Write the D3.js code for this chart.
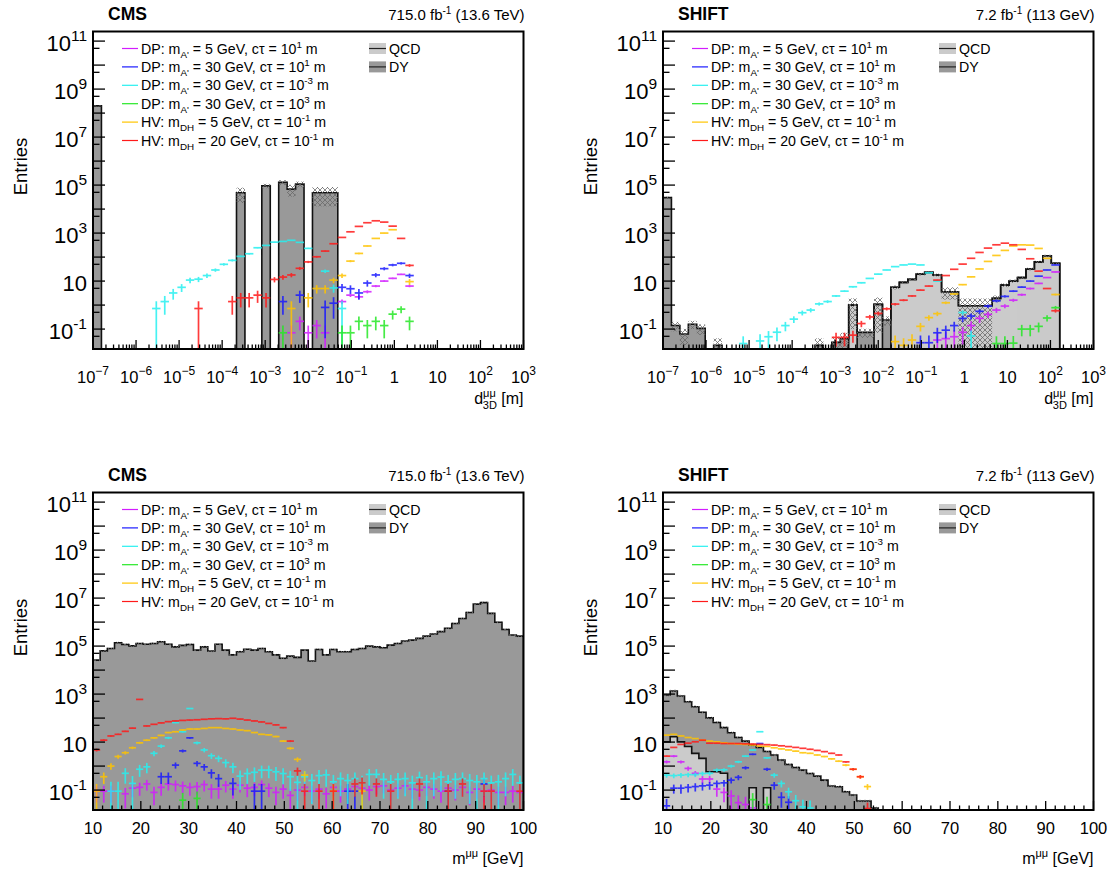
<!DOCTYPE html>
<html><head><meta charset="utf-8">
<script src="https://cdn.jsdelivr.net/npm/d3@7/dist/d3.min.js"></script>
<style>
html,body{margin:0;padding:0;background:#fff;}
svg{display:block;font-family:"Liberation Sans",Arial,Helvetica,sans-serif;}
</style></head><body>
<svg id="chart" width="1112" height="872"></svg>
<script>
// ================= DATA =================
const dLogRange = [-7, 3];      // d3D axis range, log10(m)
const dBinCount = 51;
const mRange = [10, 100];       // m(mumu) axis range, GeV
const mBinWidth = 1.5;
const yLogRange = [-1.83, 11.40];

const yTickExps = [-1, 1, 3, 5, 7, 9, 11];
const dTickExps = [-7, -6, -5, -4, -3, -2, -1, 0, 1, 2, 3];
const mTicks = [10, 20, 30, 40, 50, 60, 70, 80, 90, 100];

const seriesColors = ["#d21cff", "#1a1aff", "#26f0f0", "#26e826", "#ffc400", "#ff1a1a"];
const legendMass = ["5", "30", "30", "30", "5", "20"];
const legendCtau = ["1", "1", "-3", "3", "-1", "-1"];
const legendModel = ["DP", "DP", "DP", "DP", "HV", "HV"];

// ---- top left: CMS, d3D ----
const tlQCD = new Array(51).fill(0);
const tlDY = [2e8,0,0,0,0,0,0,0,0,0, 0,0,0,0,0,0,0,4.8e4,0,0,
  9.3e4,0,1.3e5,6.8e4,1.1e5,0,4.8e4,4.8e4,4.8e4,0, 0,0,0,0,0,0,0,0,0,0, 0,0,0,0,0,0,0,0,0,0, 0];
const tlErr = [1e7,0,0,0,0,0,0,0,0,0, 0,0,0,0,0,0,0,3e4,0,0,
  2e4,0,3e4,3.5e4,3e4,0,3.5e4,3.5e4,3.5e4,0, 0,0,0,0,0,0,0,0,0,0, 0,0,0,0,0,0,0,0,0,0, 0];
const tlMagenta = [0,0,0,0,0,0,0,0,0,0, 0,0,0,0,0,0,0,0,0,0,
  0,0,0,0.07,0.21,0.07,0.14,0.07,0,1.4, 2.6,2.2,3.6,6.2,10,13,19,6.2,0,0, 0,0,0,0,0,0,0,0,0,0, 0];
const tlBlue = [0,0,0,0,0,0,0,0,0,0, 0,0,0,0,0,0,0,0,0,0,
  0,0,1.4,0,2.6,0,0,0.8,1.2,5.5, 4.8,3.2,8.3,18,33,47,55,17,0,0, 0,0,0,0,0,0,0,0,0,0, 0];
const tlCyan = [0,0,0,0,0,0,0,0.72,1.4,3.2, 5.5,11,12,17,29,50,73,107,138,245,
  307,420,450,500,410,230,0,26,5.2,0.72, 0,0,0,0,0,0,0,0,0,0, 0,0,0,0,0,0,0,0,0,0, 0];
const tlGreen = [0,0,0,0,0,0,0,0,0,0, 0,0,0,0,0,0,0,0,0,0,
  0,0,0.07,0,0,0,0,0,0,0.07, 0.07,0.21,0.14,0.21,0.14,0.42,0.68,0.21,0,0, 0,0,0,0,0,0,0,0,0,0, 0];
const tlOrange = [0,0,0,0,0,0,0,0,0,0, 0,0,0,0,0,0,0,0,0,0,
  0,0,0,0.72,0,2.0,4.9,4.9,11,17, 68,142,290,600,1000,1380,0,9.5,0,0, 0,0,0,0,0,0,0,0,0,0, 0];
const tlRed = [0,0,0,0,0,0,0,0,0,0, 0,0,0.72,0,0,0,1.4,2.0,2.0,2.6,
  2.0,11.7,14.7,18,34,63,103,178,360,660, 1130,1900,2700,3250,2870,1950,600,45,0,0, 0,0,0,0,0,0,0,0,0,0, 0];
const tlWeights = [0.07, 0.72, 0.72, 0.07, 0.72, 0.72];

// ---- top right: SHIFT, d3D ----
const trQCD = [0,0,0,0,0,0,0,0,0,0, 0,0,0,0,0,0,0,0,0,0,
  0,0,1.0,0,0,1.07,0,5.5,8.8,11.8, 19.5,23,18,3.6,3.6,0.94,0.94,0.94,0.94,1.9,
  6.8,10,14,32,63,113,55,0,0,0, 0];
const trDY = [3e4,0.14,0.062,0.16,0.107,0,0.021,0,0,0, 0,0,0,0,0,0,0,0,0.021,0,
  0.028,0.04,0,0.073,0.073,0,0.24,0,0,0, 0,0,0,0,0,0,0,0,0,0, 0,0,0,0,0,0,0,0,0,0, 0];
const trErr = [3e3,0.06,0.04,0.06,0.05,0,0.02,0,0,0, 0,0,0,0,0,0,0,0,0.02,0,
  0.02,0.03,0.9,0.03,0.03,1.0,0.1,1.0,1.3,1.5, 2.5,3,2.5,1.9,1.9,0.94,0.94,0.94,0.94,0.6,
  1.2,1.5,2,4,7,12,7,0,0,0, 0];
const trMagenta = [0,0,0,0,0,0,0,0,0,0, 0,0,0,0,0,0,0,0,0,0, 0,0,0,0,0,0,0,0,0,0,
  0,0,0.035,0.04,0.048,0.073,0.14,0.28,0.41,0.62, 0.91,1.6,2.7,4.9,8,14,24,0,0,0, 0];
const trBlue = [0,0,0,0,0,0,0,0,0,0, 0,0,0,0,0,0,0,0,0,0, 0,0,0,0,0,0,0,0,0,0,
  0.027,0.027,0.07,0.09,0.14,0.28,0.35,0.55,0.91,1.5, 2.3,3.8,5.6,10,16,29,47,0,0,0, 0];
const trCyan = [0,0,0,0,0,0,0,0,0,0.025, 0,0.032,0.048,0.074,0.14,0.26,0.48,0.62,1.12,1.4,
  2.4,3.8,5.8,8.5,12.9,19.5,29,40,47,51, 47,22,10,0,0,0.49,0.052,0,0,0, 0,0,0,0,0,0,0,0,0,0, 0];
const trGreen = [0,0,0,0,0,0,0,0,0,0, 0,0,0,0,0,0,0,0,0,0, 0,0,0,0,0,0,0,0,0,0,
  0,0,0,0,0,0,0,0,0,0.025, 0.025,0.026,0.1,0.1,0.13,0.29,0.78,0,0,0, 0];
const trOrange = [0,0,0,0,0,0,0,0,0,0, 0,0,0,0,0,0,0,0,0,0,
  0,0,0,0,0,0,0,0.03,0.021,0.035, 0.13,0.3,0.44,1.25,2.9,7.1,15,32,66,117,
  190,290,324,316,229,89,2.75,0,0,0, 0];
const trRed = [0,0,0,0,0,0,0,0,0,0, 0,0,0,0,0,0,0,0,0,0,
  0.045,0.045,0.056,0.17,0.32,0.45,0.7,1.1,1.6,2.4, 4.2,6.2,11,17,31,51,89,156,237,325,
  380,325,209,85,26,4.9,0.58,0,0,0, 0];
const trWeights = [0.035, 0.027, 0.025, 0.025, 0.02, 0.015];

// ---- bottom left: CMS, m(mumu) ----
const blQCD = new Array(60).fill(0);
const blDY = [2.6e4,6.3e4,7.9e4,1.38e5,1.17e5,1.02e5,1.29e5,1.2e5,1.29e5,1.51e5,
  1.2e5,9.3e4,1.07e5,1.17e5,6.8e4,9.3e4,6.2e4,1.2e5,6.8e4,4.3e4,
  5.8e4,7.4e4,6.8e4,7.9e4,5.8e4,4.3e4,3.1e4,3.8e4,3.4e4,6.8e4,
  2.4e4,7.2e4,4.3e4,7.2e4,5.8e4,5.8e4,7.2e4,7.9e4,1.0e5,9.3e4,
  8.5e4,1.1e5,1.29e5,1.62e5,1.78e5,2.1e5,2.6e5,3.2e5,4.0e5,5.5e5,
  8.7e5,1.41e6,2.5e6,5.6e6,6.5e6,2.3e6,9.8e5,4.9e5,2.9e5,2.6e5];
const blRelErr = 0.1;
const blMagenta = [0.09,0.09,0.09,0,0.07,0.12,0.13,0.18,0.08,0.13,
  0.18,0.17,0.15,0.13,0.14,0.17,0.11,0.11,0.16,0.11,
  0.16,0.12,0.13,0.17,0.12,0.08,0.11,0.06,0.1,0.13,
  0.09,0.11,0.07,0.13,0.09,0.11,0.14,0.12,0.1,0.14,
  0.15,0.1,0.12,0.15,0.11,0.1,0.13,0.11,0.09,0.12,
  0.1,0.13,0.08,0.11,0.09,0.1,0.08,0.08,0.09,0.08];
const blBlue = [0,0,0,0,0,0,0,0,0,0.36, 0.36,1.1,4.3,15,1.3,0.93,0.52,0.3,0,0.19,
  0,0,0.09,0.09,0,0,0,0,0,0, 0,0,0,0,0,0.09,0.09,0,0,0,
  0,0,0,0,0,0,0,0,0,0.09, 0,0,0,0,0.18,0,0,0,0,0];
const blCyan = [0,0,0.09,0.09,0.5,0.19,0.74,0.93,3.4,6.8,
  15,65,27,250,9.3,4.7,2.7,2.1,1.4,0.93,
  0.38,0.49,0.55,0.68,0.68,0.58,0.49,0.36,0.21,0.36,
  0.25,0.4,0.43,0.22,0.3,0.25,0.3,0.2,0.45,0.45,
  0.28,0.22,0.28,0.3,0.2,0.33,0.22,0.3,0.35,0.22,
  0.28,0.3,0.25,0.22,0.3,0.2,0.22,0.3,0.45,0.2];
const blGreen = [0,0,0,0,0,0,0,0,0,0, 0,0,0.038,0,0.045,0,0,0,0,0,
  0,0,0,0,0,0,0,0,0,0, 0,0,0,0,0,0,0,0,0,0, 0,0,0,0,0,0,0,0,0,0, 0,0,0,0,0,0,0,0,0,0];
const blOrange = [0.09,0.36,1.0,2.5,3.6,5.8,9.3,12,15,19,
  25,27,32,35,35,37,40,40,37,35, 32,30,25,21,20,17,11,5.5,1.9,0.42,
  0,0,0,0.09,0,0,0,0.09,0,0, 0,0,0,0,0,0,0,0,0,0, 0,0,0,0,0,0,0,0,0,0];
const blRed = [4.7,12,18,21,28,38,600,47,55,63, 71,76,80,83,85,89,93,95,93,98,
  91,83,76,69,60,52,40,11,0.63,0.09, 0,0.09,0,0.09,0,0,0.18,0.2,0,0.18,
  0,0.09,0,0,0,0.18,0,0,0,0.09, 0,0.18,0,0,0.09,0.09,0,0,0,0.09];
const blWeights = [0.04, 0.09, 0.2, 0.04, 0.09, 0.09];

// ---- bottom right: SHIFT, m(mumu) ----
const brQCD = [10.2,16.6,10.2,6.5,3.4,2.1,0.58,0.58,0.5,0, 0,0,0.125,0,0.125,0,0,0,0,0,
  0,0,0,0,0,0,0,0,0,0, 0,0,0,0,0,0,0,0,0,0, 0,0,0,0,0,0,0,0,0,0, 0,0,0,0,0,0,0,0,0,0];
const brDY = [902,1333,822,472,292,172,101,65,39.5,24.5, 15.5,11,7.5,6.0,3.9,2.9,1.78,1.17,0.87,0.68,
  0.49,0.38,0.26,0.148,0.138,0.085,0.062,0.035,0.035,0.018, 0,0,0,0,0,0,0,0,0,0,
  0,0,0,0,0,0,0,0,0,0, 0,0,0,0,0,0,0,0,0,0];
const brRelErr = 0.12;
const brMagenta = [1.5,2.6,1.5,0.8,0.5,0.29,0.29,0.11,0.08,0.057, 0.03,0.025,0.018,0,0,0,0,0,0,0,
  0,0,0,0,0,0,0,0,0,0, 0,0,0,0,0,0,0,0,0,0, 0,0,0,0,0,0,0,0,0,0, 0,0,0,0,0,0,0,0,0,0];
const brBlue = [0.022,0.12,0.12,0.13,0.14,0.15,0.16,0.19,0.2,0.26, 0.34,0.85,3.1,8.7,0.74,0.16,0.05,0.031,0,0,
  0,0,0,0,0,0,0,0,0,0, 0,0,0,0,0,0,0,0,0,0, 0,0,0,0,0,0,0,0,0,0, 0,0,0,0,0,0,0,0,0,0];
const brCyan = [0.42,0.4,0.42,0.44,0.44,0.49,0.5,0.68,0.7,1.0, 1.5,2.6,4.7,27,2.2,0.42,0.19,0.085,0.036,0.02,
  0.018,0,0,0,0,0,0,0,0,0, 0,0,0,0,0,0,0,0,0,0, 0,0,0,0,0,0,0,0,0,0, 0,0,0,0,0,0,0,0,0,0];
const brGreen = [0,0,0,0,0,0,0,0,0,0, 0,0,0.04,0,0.025,0,0,0,0,0,
  0,0,0,0,0,0,0,0,0,0, 0,0,0,0,0,0,0,0,0,0, 0,0,0,0,0,0,0,0,0,0, 0,0,0,0,0,0,0,0,0,0];
const brOrange = [19.5,21,18,15.5,14,12,11,10.2,9.3,8.7, 8.3,8.0,7.6,6.8,6.6,5.8,5.2,4.7,4.2,3.6,
  3.4,2.9,2.5,2.0,1.6,1.1,0.74,0.36,0.14,0, 0,0,0,0,0,0,0,0,0,0,
  0,0,0,0,0,0,0,0,0,0, 0,0,0,0,0,0,0,0,0,0];
const brRed = [2.6,6,8,9,10.3,12,9,9,8.7,8.7, 8.7,8.5,8.3,8,7.8,7.5,7,6.5,6,5.5,
  5,4.5,4,3.4,2.9,1.5,0.74,0.36,0.017,0, 0,0,0,0,0,0,0,0,0,0,
  0,0,0,0,0,0,0,0,0,0, 0,0,0,0,0,0,0,0,0,0];
const brWeights = [0.03, 0.02, 0.02, 0.03, 0.01, 0.01];

// ================= DRAWING =================
const svg = d3.select("#chart");
svg.append("rect").attr("width", 1112).attr("height", 872).attr("fill", "#fff");
const defs = svg.append("defs");
const pat = defs.append("pattern").attr("id", "hatch").attr("patternUnits", "userSpaceOnUse")
  .attr("width", 5).attr("height", 5);
pat.append("path").attr("d", "M0,0L5,5M5,0L0,5").attr("stroke", "#6a6a6a").attr("stroke-width", 0.8);

const dEdges = d3.range(dBinCount + 1).map(i => Math.pow(10, dLogRange[0] + i * (dLogRange[1] - dLogRange[0]) / dBinCount));
const mEdges = d3.range(Math.round((mRange[1] - mRange[0]) / mBinWidth) + 1).map(i => mRange[0] + i * mBinWidth);

const panels = [
  {key: "tl", left: 93, right: 523.5, top: 31.5, bottom: 349, kind: "d", exp: "CMS", lumi: ["715.0 fb", "-1", " (13.6 TeV)"],
   qcd: tlQCD, dy: tlDY, err: tlErr, sig: [tlMagenta, tlBlue, tlCyan, tlGreen, tlOrange, tlRed], w: tlWeights},
  {key: "tr", left: 663, right: 1093.5, top: 31.5, bottom: 349, kind: "d", exp: "SHIFT", lumi: ["7.2 fb", "-1", " (113 GeV)"],
   qcd: trQCD, dy: trDY, err: trErr, sig: [trMagenta, trBlue, trCyan, trGreen, trOrange, trRed], w: trWeights},
  {key: "bl", left: 93, right: 523.5, top: 492.5, bottom: 810, kind: "m", exp: "CMS", lumi: ["715.0 fb", "-1", " (13.6 TeV)"],
   qcd: blQCD, dy: blDY, relErr: blRelErr, sig: [blMagenta, blBlue, blCyan, blGreen, blOrange, blRed], w: blWeights},
  {key: "br", left: 663, right: 1093.5, top: 492.5, bottom: 810, kind: "m", exp: "SHIFT", lumi: ["7.2 fb", "-1", " (113 GeV)"],
   qcd: brQCD, dy: brDY, relErr: brRelErr, sig: [brMagenta, brBlue, brCyan, brGreen, brOrange, brRed], w: brWeights}
];

panels.forEach(drawPanel);

function drawPanel(p) {
  const g = svg.append("g");
  const x = p.kind === "d"
    ? d3.scaleLog().domain([Math.pow(10, dLogRange[0]), Math.pow(10, dLogRange[1])]).range([p.left, p.right])
    : d3.scaleLinear().domain(mRange).range([p.left, p.right]);
  const y = d3.scaleLog().domain([Math.pow(10, yLogRange[0]), Math.pow(10, yLogRange[1])]).range([p.bottom, p.top]);
  const edges = p.kind === "d" ? dEdges : mEdges;
  const n = edges.length - 1;
  const below = p.bottom + 3;
  const yv = v => (v > 0 ? Math.min(y(v), below) : below);

  const clipId = "clip-" + p.key;
  defs.append("clipPath").attr("id", clipId).append("rect")
    .attr("x", p.left).attr("y", p.top).attr("width", p.right - p.left).attr("height", p.bottom - p.top);
  const dg = g.append("g").attr("clip-path", `url(#${clipId})`);

  const total = p.qcd.map((q, i) => q + p.dy[i]);
  const idx = d3.range(n);

  dg.append("g").selectAll("rect").data(idx.filter(i => p.qcd[i] > 0)).join("rect")
    .attr("x", i => x(edges[i])).attr("width", i => x(edges[i + 1]) - x(edges[i]))
    .attr("y", i => yv(p.qcd[i])).attr("height", i => below - yv(p.qcd[i]))
    .attr("fill", "#cbcbcb").attr("shape-rendering", "crispEdges");
  dg.append("g").selectAll("rect").data(idx.filter(i => p.dy[i] > 0)).join("rect")
    .attr("x", i => x(edges[i])).attr("width", i => x(edges[i + 1]) - x(edges[i]))
    .attr("y", i => yv(total[i])).attr("height", i => yv(p.qcd[i]) - yv(total[i]))
    .attr("fill", "#999999").attr("shape-rendering", "crispEdges");

  function stepPath(vals) {
    let d = `M${x(edges[0])},${below}`;
    for (let i = 0; i < n; i++) {
      const yy = yv(vals[i]);
      d += `L${x(edges[i])},${yy}L${x(edges[i + 1])},${yy}`;
    }
    d += `L${x(edges[n])},${below}`;
    return d;
  }
  if (p.qcd.some(v => v > 0))
    dg.append("path").attr("d", stepPath(p.qcd)).attr("fill", "none").attr("stroke", "#111").attr("stroke-width", 1.6);
  dg.append("path").attr("d", stepPath(total)).attr("fill", "none").attr("stroke", "#111").attr("stroke-width", 1.6);

  const errOf = i => p.err ? p.err[i] : total[i] * p.relErr;
  dg.append("g").selectAll("rect").data(idx.filter(i => total[i] > 0 && errOf(i) > 0)).join("rect")
    .attr("x", i => x(edges[i])).attr("width", i => x(edges[i + 1]) - x(edges[i]))
    .attr("y", i => y(total[i] + errOf(i)))
    .attr("height", i => { const lo = total[i] - errOf(i); return (lo > 0 ? yv(lo) : below) - y(total[i] + errOf(i)); })
    .attr("fill", "url(#hatch)");

  p.sig.forEach((arr, s) => {
    const sg = dg.append("g").attr("stroke", seriesColors[s]).attr("stroke-width", 1.7).attr("opacity", 0.85);
    const pts = idx.filter(i => arr[i] > 0);
    sg.selectAll("line.h").data(pts).join("line").attr("class", "h")
      .attr("x1", i => x(edges[i])).attr("x2", i => x(edges[i + 1]))
      .attr("y1", i => y(arr[i])).attr("y2", i => y(arr[i]));
    sg.selectAll("line.v").data(pts).join("line").attr("class", "v")
      .attr("x1", i => (x(edges[i]) + x(edges[i + 1])) / 2).attr("x2", i => (x(edges[i]) + x(edges[i + 1])) / 2)
      .attr("y1", i => { const e = Math.sqrt(arr[i] * p.w[s]); const lo = arr[i] - e; return lo > 0 ? yv(lo) : below; })
      .attr("y2", i => y(arr[i] + Math.sqrt(arr[i] * p.w[s])));
  });

  const ax = g.append("g").attr("stroke", "#000").attr("stroke-width", 1.3);
  for (let e = Math.ceil(yLogRange[0]); e <= Math.floor(yLogRange[1]); e++) {
    const yy = y(Math.pow(10, e));
    ax.append("line").attr("x1", p.left).attr("x2", p.left + 12).attr("y1", yy).attr("y2", yy);
  }
  for (let e = Math.floor(yLogRange[0]); e <= Math.floor(yLogRange[1]); e++) {
    const v = 5 * Math.pow(10, e);
    if (Math.log10(v) < yLogRange[0] || Math.log10(v) > yLogRange[1]) continue;
    const yy = y(v);
    ax.append("line").attr("x1", p.left).attr("x2", p.left + 6.5).attr("y1", yy).attr("y2", yy);
  }
  if (p.kind === "d") {
    for (let e = dLogRange[0]; e <= dLogRange[1]; e++) {
      const xx = x(Math.pow(10, e));
      ax.append("line").attr("x1", xx).attr("x2", xx).attr("y1", p.bottom).attr("y2", p.bottom - 9);
      if (e < dLogRange[1]) for (let m = 2; m <= 9; m++) {
        const xm = x(m * Math.pow(10, e));
        ax.append("line").attr("x1", xm).attr("x2", xm).attr("y1", p.bottom).attr("y2", p.bottom - 4.5);
      }
    }
  } else {
    for (let v = mRange[0]; v <= mRange[1]; v += 2) {
      const xx = x(v);
      const major = v % 10 === 0;
      ax.append("line").attr("x1", xx).attr("x2", xx).attr("y1", p.bottom).attr("y2", p.bottom - (major ? 9 : 4.5));
    }
  }

  g.append("rect").attr("x", p.left).attr("y", p.top).attr("width", p.right - p.left).attr("height", p.bottom - p.top)
    .attr("fill", "none").attr("stroke", "#000").attr("stroke-width", 2);

  yTickExps.forEach(e => {
    const t = g.append("text").attr("x", p.left - 6).attr("y", y(Math.pow(10, e)) + 10)
      .attr("text-anchor", "end").attr("font-size", 22).attr("fill", "#000");
    t.append("tspan").text("10");
    if (e !== 1) t.append("tspan").attr("dy", -10).attr("font-size", 15.5).text(e < 0 ? "-" + (-e) : String(e));
  });
  if (p.kind === "d") {
    dTickExps.forEach(e => {
      const t = g.append("text").attr("x", x(Math.pow(10, e))).attr("y", p.bottom + 34)
        .attr("text-anchor", "middle").attr("font-size", 16.5).attr("fill", "#000");
      if (e === 0) t.text("1");
      else if (e === 1) t.text("10");
      else {
        t.append("tspan").text("10");
        t.append("tspan").attr("dy", -8).attr("font-size", 12).text(e < 0 ? "\u2212" + (-e) : String(e));
      }
    });
  } else {
    mTicks.forEach(v => {
      g.append("text").attr("x", x(v)).attr("y", p.bottom + 24).attr("text-anchor", "middle")
        .attr("font-size", 16.5).attr("fill", "#000").text(v);
    });
  }

  const xt = g.append("text").attr("x", p.right).attr("y", p.kind === "d" ? p.bottom + 55 : p.bottom + 54)
    .attr("text-anchor", "end").attr("font-size", 16).attr("fill", "#000");
  if (p.kind === "d") {
    xt.append("tspan").text("d");
    xt.append("tspan").attr("dy", -7).attr("font-size", 11).text("\u03bc\u03bc");
    xt.append("tspan").attr("dx", -13).attr("dy", 12).attr("font-size", 11).text("3D");
    xt.append("tspan").attr("dy", -5).text(" [m]");
  } else {
    xt.append("tspan").text("m");
    xt.append("tspan").attr("dy", -7).attr("font-size", 11).text("\u03bc\u03bc");
    xt.append("tspan").attr("dy", 7).text(" [GeV]");
  }
  const ytx = p.left - 66, yty = p.top + 135;
  g.append("text").attr("transform", `translate(${ytx},${yty}) rotate(-90)`).attr("text-anchor", "middle")
    .attr("font-size", 18.5).attr("fill", "#000").text("Entries");

  g.append("text").attr("x", p.left + 15).attr("y", p.top - 12).attr("font-size", 17.5).attr("font-weight", "bold")
    .attr("fill", "#000").text(p.exp);
  const lt = g.append("text").attr("x", p.right + 1).attr("y", p.top - 12).attr("text-anchor", "end")
    .attr("font-size", 15).attr("fill", "#000");
  lt.append("tspan").text(p.lumi[0]);
  lt.append("tspan").attr("dy", -6).attr("font-size", 10).text(p.lumi[1]);
  lt.append("tspan").attr("dy", 6).text(p.lumi[2]);

  const lg = g.append("g");
  const row0 = p.top + 17, rowH = 18.4;
  legendModel.forEach((mdl, s) => {
    const yy = row0 + s * rowH;
    lg.append("line").attr("x1", p.left + 29).attr("x2", p.left + 45).attr("y1", yy).attr("y2", yy)
      .attr("stroke", seriesColors[s]).attr("stroke-width", 1.2);
    const t = lg.append("text").attr("x", p.left + 48).attr("y", yy + 5).attr("font-size", 14.2).attr("fill", "#000");
    t.append("tspan").text(mdl + ": m");
    t.append("tspan").attr("dy", 4).attr("font-size", 9.8).text(mdl === "DP" ? "A'" : "DH");
    t.append("tspan").attr("dy", -4).text(` = ${legendMass[s]} GeV, c\u03c4 = 10`);
    t.append("tspan").attr("dy", -6).attr("font-size", 9.8).text(legendCtau[s]);
    t.append("tspan").attr("dy", 6).text(" m");
  });
  [["QCD", "#cbcbcb"], ["DY", "#999999"]].forEach((b, j) => {
    const yy = row0 + j * rowH;
    lg.append("rect").attr("x", p.left + 276).attr("y", yy - 5.5).attr("width", 17).attr("height", 11).attr("fill", b[1]);
    lg.append("line").attr("x1", p.left + 276).attr("x2", p.left + 293).attr("y1", yy).attr("y2", yy)
      .attr("stroke", "#222").attr("stroke-width", 1.2);
    lg.append("text").attr("x", p.left + 296).attr("y", yy + 5).attr("font-size", 14.2).attr("fill", "#000").text(b[0]);
  });
}
</script></body></html>
